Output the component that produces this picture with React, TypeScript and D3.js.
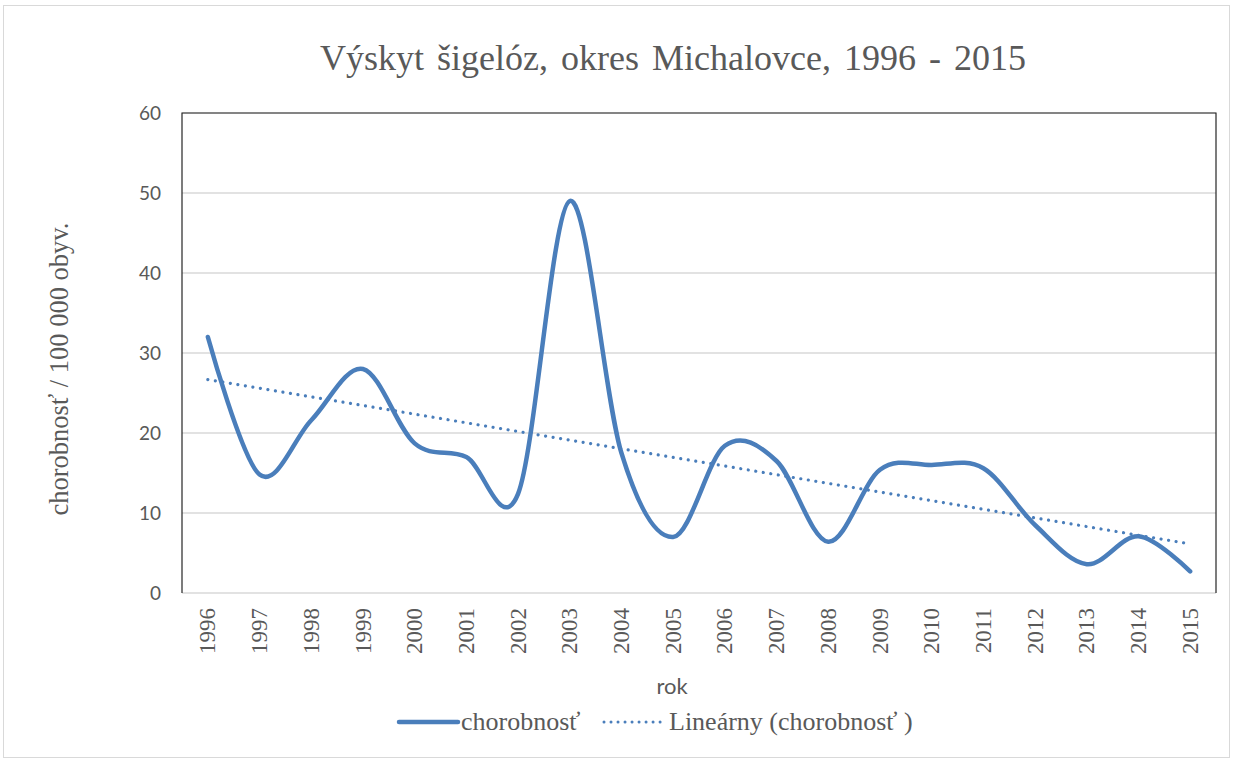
import React from 'react'
import * as d3 from 'd3'

// roky a chorobnosť na 100 000 obyv.
const years = ['1996', '1997', '1998', '1999', '2000', '2001', '2002', '2003', '2004', '2005',
    '2006', '2007', '2008', '2009', '2010', '2011', '2012', '2013', '2014', '2015']
const morbidity = [32, 14.8, 21.6, 28, 18.7, 17, 12.4, 49, 17.5, 7,
    18.4, 16.5, 6.4, 15.4, 16, 15.6, 8.5, 3.6, 7.1, 2.7]
const yTicks = [0, 10, 20, 30, 40, 50, 60]

const title = 'Výskyt šigelóz, okres Michalovce, 1996 - 2015'
const yTitle = 'chorobnosť / 100 000 obyv.'
const xTitle = 'rok'
const seriesName = 'chorobnosť'
const trendName = 'Lineárny (chorobnosť )'

const W = 1233
const H = 762
const margin = { top: 113, right: 17, bottom: 169, left: 182 }
const blue = '#4a7ebb'
const grey = '#595959'
const serif = 'Liberation Serif'
const sans = 'Lato'

export default function App() {
    const innerW = W - margin.left - margin.right
    const innerH = H - margin.top - margin.bottom

    const x = d3.scaleBand<string>().domain(years).range([0, innerW])
    const y = d3.scaleLinear().domain([0, 60]).range([innerH, 0])
    const cx = (i: number) => (x(years[i]) ?? 0) + x.bandwidth() / 2

    // lineárny trend (najmenšie štvorce)
    const idx = morbidity.map((_, i) => i)
    const mx = d3.mean(idx)!
    const my = d3.mean(morbidity)!
    const slope =
        d3.sum(idx, (i) => (i - mx) * (morbidity[i] - my)) / d3.sum(idx, (i) => (i - mx) ** 2)
    const trend = (i: number) => my + slope * (i - mx)

    const line = d3
        .line<number>()
        .x((_, i) => cx(i))
        .y((d) => y(d))
        .curve(d3.curveCardinal.tension(0))

    const trendLine = d3
        .line<number>()
        .x((i) => cx(i))
        .y((i) => y(trend(i)))

    return (
        <svg
            width={W}
            height={H}
            style={{ position: 'absolute', left: 0, top: 0, background: '#fff' }}
        >
            <rect x={3.5} y={5.5} width={1226} height={752} fill="#fff" stroke="#d9d9d9" />
            <text
                x={673}
                y={70}
                textAnchor="middle"
                fontFamily={serif}
                fontSize={36}
                fill={grey}
                style={{ wordSpacing: '4px' }}
            >
                {title}
            </text>

            <g transform={`translate(${margin.left},${margin.top})`}>
                {yTicks.map((t) => (
                    <g key={t}>
                        <line x1={0} x2={innerW} y1={y(t)} y2={y(t)} stroke="#d9d9d9" strokeWidth={1.3} />
                        <text
                            x={-21}
                            y={y(t)}
                            dy="0.36em"
                            textAnchor="end"
                            fontFamily={sans}
                            fontSize={19}
                            fill={grey}
                        >
                            {t}
                        </text>
                    </g>
                ))}
                <path
                    d={`M0,${innerH}V0H${innerW}V${innerH}`}
                    fill="none"
                    stroke="#262626"
                    strokeWidth={1.2}
                />

                {years.map((yr, i) => (
                    <text
                        key={yr}
                        transform={`translate(${cx(i)},${innerH + 15}) rotate(-90)`}
                        dy="0.33em"
                        textAnchor="end"
                        fontFamily={serif}
                        fontSize={23}
                        fill={grey}
                    >
                        {yr}
                    </text>
                ))}

                <path
                    d={trendLine(idx) ?? ''}
                    fill="none"
                    stroke={blue}
                    strokeWidth={3.2}
                    strokeLinecap="round"
                    strokeDasharray="0.01 7.6"
                />
                <path
                    d={line(morbidity) ?? ''}
                    fill="none"
                    stroke={blue}
                    strokeWidth={4.5}
                    strokeLinecap="round"
                    strokeLinejoin="round"
                />
            </g>

            <text
                transform={`translate(68,369) rotate(-90)`}
                textAnchor="middle"
                fontFamily={serif}
                fontSize={26.5}
                fill={grey}
            >
                {yTitle}
            </text>
            <text x={672} y={694} textAnchor="middle" fontFamily={sans} fontSize={22} fill={grey}>
                {xTitle}
            </text>

            <g>
                <line x1={399} x2={458} y1={722} y2={722} stroke={blue} strokeWidth={4.5} strokeLinecap="round" />
                <text x={461} y={722} dy="0.32em" fontFamily={serif} fontSize={26} fill={grey}>
                    {seriesName}
                </text>
                <line
                    x1={604}
                    x2={661}
                    y1={722}
                    y2={722}
                    stroke={blue}
                    strokeWidth={3}
                    strokeLinecap="round"
                    strokeDasharray="0.01 7"
                />
                <text x={669} y={722} dy="0.32em" fontFamily={serif} fontSize={26} fill={grey}>
                    {trendName}
                </text>
            </g>
        </svg>
    )
}
